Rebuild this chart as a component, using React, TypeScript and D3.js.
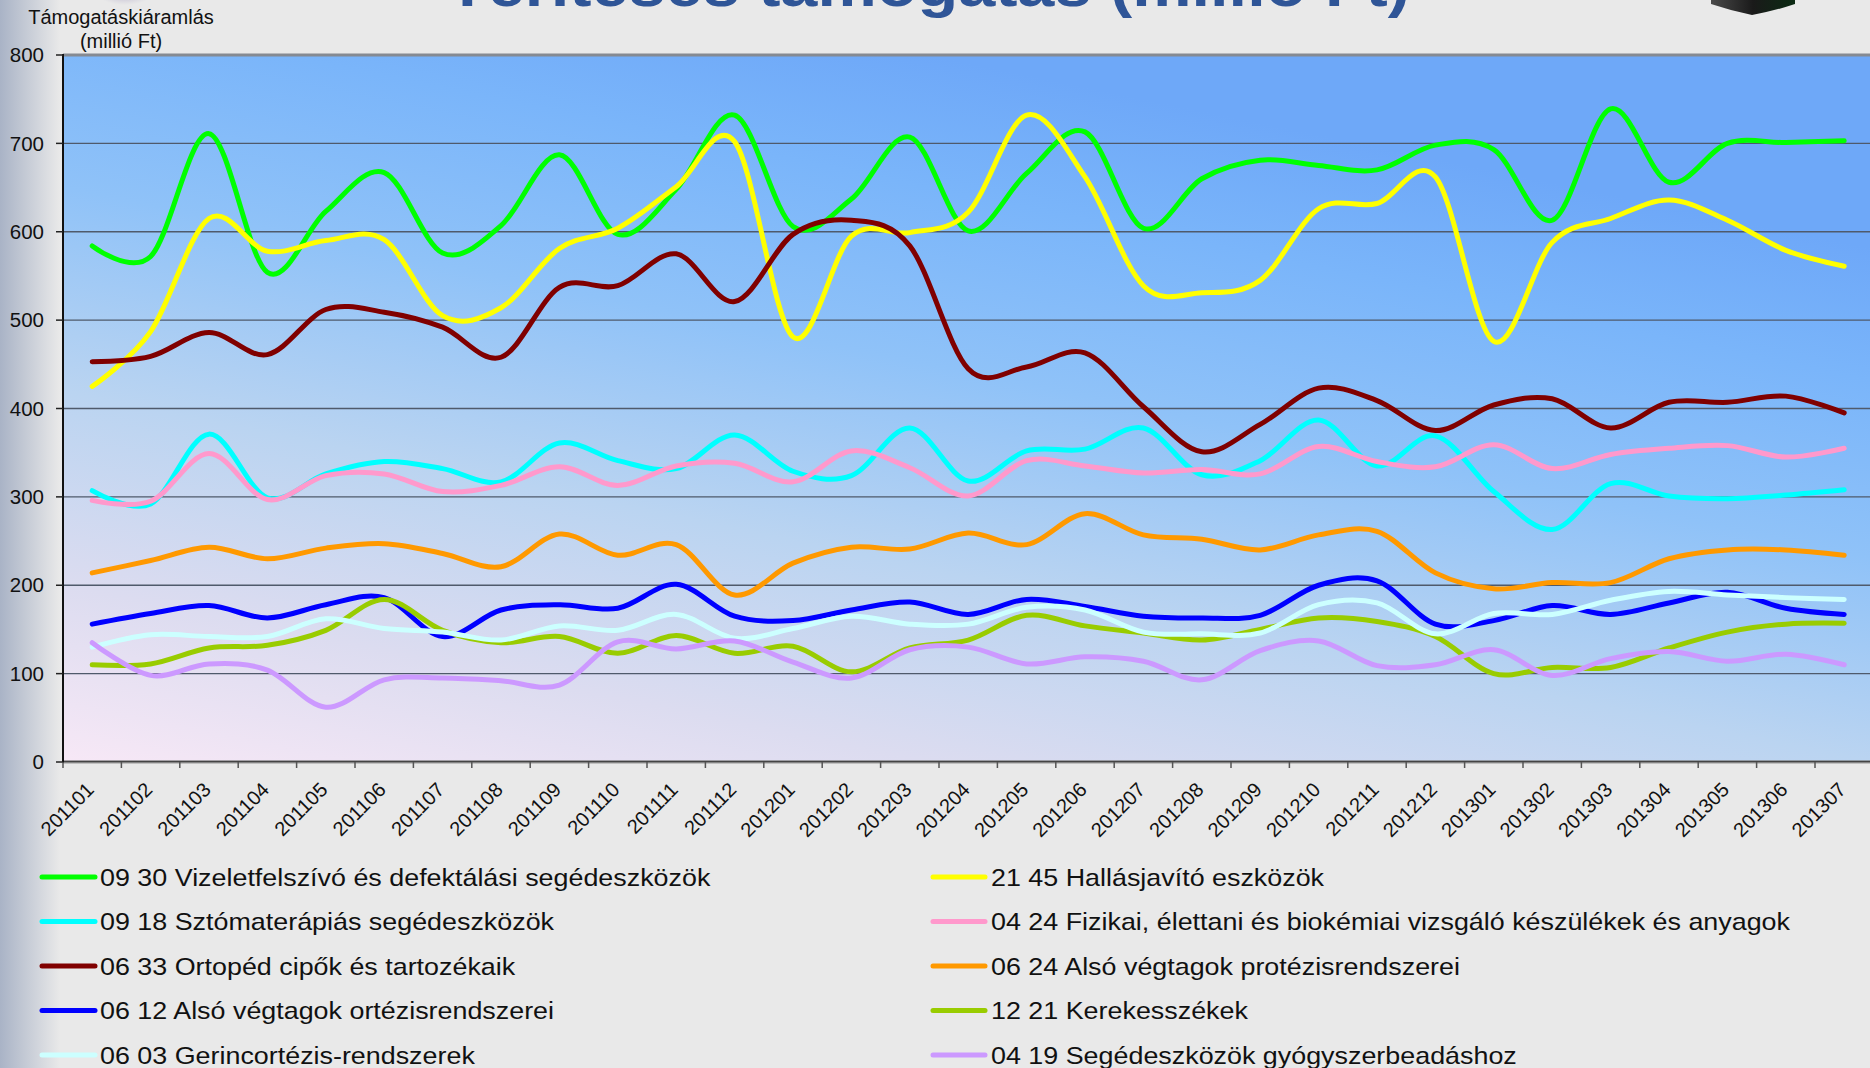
import React from "react";
import * as d3 from "d3";

const months = [
  "201101","201102","201103","201104","201105","201106","201107","201108","201109","201110","201111","201112",
  "201201","201202","201203","201204","201205","201206","201207","201208","201209","201210","201211","201212",
  "201301","201302","201303","201304","201305","201306","201307",
];

const yTicks = [0, 100, 200, 300, 400, 500, 600, 700, 800];

const s0930 = [584,572,711,554,623,667,576,607,687,597,648,732,606,637,707,601,666,713,604,660,681,675,670,698,693,613,739,656,700,701,703];
const s2145 = [425,487,615,578,590,591,505,514,581,604,651,702,481,595,599,622,732,662,539,531,545,626,632,662,476,588,615,636,613,579,561];
const s0918 = [307,292,371,299,326,340,332,317,361,341,332,370,329,324,378,318,352,354,378,325,341,387,335,369,306,263,315,301,298,302,308];
const s0424 = [296,295,349,297,324,326,306,313,334,313,335,338,317,352,333,301,341,335,327,331,326,357,340,334,359,332,348,355,358,345,355];
const s0633 = [453,459,486,461,512,509,492,458,537,539,575,521,597,613,584,445,447,463,402,351,382,423,409,375,404,411,378,407,407,414,395];
const s0624 = [214,228,243,230,242,247,236,221,258,234,246,189,225,243,241,259,246,281,257,252,240,257,261,214,196,203,203,230,240,240,234];
const s0612 = [156,168,177,163,178,186,142,172,178,174,201,165,160,172,181,167,184,176,165,163,166,200,205,156,160,177,167,180,192,174,167];
const s1221 = [110,111,129,132,149,184,149,135,142,123,143,123,131,102,129,138,166,154,146,138,150,163,159,142,100,107,107,129,147,156,157];
const s0603 = [130,144,142,142,162,151,147,138,154,149,167,140,151,165,156,156,175,172,147,145,146,178,180,145,168,167,183,193,189,186,184];
const s0419 = [135,98,111,104,62,93,95,92,87,136,128,137,113,95,127,130,111,119,114,93,126,137,109,110,127,98,117,125,114,122,110];

const seriesNames = [
  "09 30 Vizeletfelszívó és defektálási segédeszközök",
  "21 45 Hallásjavító eszközök",
  "09 18 Sztómaterápiás segédeszközök",
  "04 24 Fizikai, élettani és biokémiai vizsgáló készülékek és anyagok",
  "06 33 Ortopéd cipők és tartozékaik",
  "06 24 Alsó végtagok protézisrendszerei",
  "06 12 Alsó végtagok ortézisrendszerei",
  "12 21 Kerekesszékek",
  "06 03 Gerincortézis-rendszerek",
  "04 19 Segédeszközök gyógyszerbeadáshoz",
];
const seriesValues = [s0930, s2145, s0918, s0424, s0633, s0624, s0612, s1221, s0603, s0419];
const seriesColors = [
  "#00ff00", "#ffff00", "#00ffff", "#ff99cc", "#800000",
  "#ff9900", "#0000ff", "#99cc00", "#ccffff", "#cc99ff",
];

const titleText = "Térítéses támogatás (millió Ft)";
const yTitle1 = "Támogatáskiáramlás";
const yTitle2 = "(millió Ft)";

const W = 1870;
const H = 1068;
const PL = 63;
const PT = 55;
const PB = 762;
const PR = 1870;

export default function App() {
  const x = d3.scaleBand<string>().domain(months).range([PL, PL + 58.4 * months.length]).padding(0);
  const bw = x.bandwidth();
  const cx = (m: string) => (x(m) as number) + bw / 2;
  const y = d3.scaleLinear().domain([0, 800]).range([PB, PT]);
  const line = d3
    .line<number>()
    .x((_, i) => cx(months[i]))
    .y((v) => y(v))
    .curve(d3.curveCatmullRom.alpha(0));

  const font = "'Liberation Sans', Arial, sans-serif";

  return (
    <svg
      width={W}
      height={H}
      viewBox={`0 0 ${W} ${H}`}
      style={{ position: "absolute", left: 0, top: 0, display: "block" }}
    >
      <defs>
        <linearGradient id="leftStrip" x1="0" y1="0" x2="1" y2="0">
          <stop offset="0" stopColor="#a9b3c6" />
          <stop offset="1" stopColor="#e9e9e9" />
        </linearGradient>
        <linearGradient id="plotBg" gradientUnits="userSpaceOnUse" x1={PL} y1={PB} x2={PL + 174} y2={PB - 849}>
          <stop offset="0" stopColor="#f7e8f6" />
          <stop offset="0.2" stopColor="#dcdcf0" />
          <stop offset="0.42" stopColor="#bad4f1" />
          <stop offset="0.65" stopColor="#8fc2f8" />
          <stop offset="0.85" stopColor="#7ab5fa" />
          <stop offset="1" stopColor="#6ea8f8" />
        </linearGradient>
        <linearGradient id="logo" x1="0" y1="0" x2="1" y2="0">
          <stop offset="0" stopColor="#4a4a4a" />
          <stop offset="0.5" stopColor="#1a1a1a" />
          <stop offset="1" stopColor="#0b2a12" />
        </linearGradient>
        <radialGradient id="blob" cx="0.5" cy="0.3" r="0.6">
          <stop offset="0" stopColor="#7d6fa6" stopOpacity="0.9" />
          <stop offset="1" stopColor="#b8b2cc" stopOpacity="0" />
        </radialGradient>
        <clipPath id="plotClip">
          <rect x={PL} y={PT} width={PR - PL} height={PB - PT} />
        </clipPath>
      </defs>

      {/* page background */}
      <rect x={0} y={0} width={W} height={H} fill="#e9e9e9" />
      <rect x={0} y={0} width={60} height={H} fill="url(#leftStrip)" />
      <ellipse cx={125} cy={-6} rx={26} ry={14} fill="url(#blob)" />

      {/* title (cut off at top, as in the reference) */}
      <text
        x={447}
        y={6}
        fontFamily={font}
        fontWeight="bold"
        fontSize={60}
        fill="#2f5597"
        textLength={963}
        lengthAdjust="spacingAndGlyphs"
      >
        {titleText}
      </text>

      {/* logo fragment */}
      <path d="M1711,0 L1711,4 Q1732,11 1752,15 Q1774,11 1795,4 L1795,0 Z" fill="url(#logo)" />

      {/* plot background */}
      <rect x={PL} y={PT} width={PR - PL} height={PB - PT} fill="url(#plotBg)" />

      {/* gridlines */}
      {yTicks.filter((t) => t > 0 && t < 800).map((t) => (
        <line key={t} x1={PL} x2={PR} y1={y(t)} y2={y(t)} stroke="#4f5a6b" strokeWidth={1.4} />
      ))}
      {/* top border */}
      <line x1={PL} x2={PR} y1={PT} y2={PT} stroke="#858a92" strokeWidth={3} />

      {/* series */}
      <g clipPath="url(#plotClip)">
        {seriesValues.map((vals, k) => (
          <path
            key={k}
            d={line(vals) || ""}
            fill="none"
            stroke={seriesColors[k]}
            strokeWidth={5}
            strokeLinecap="round"
            strokeLinejoin="round"
          />
        ))}
      </g>

      {/* axes */}
      <line x1={PL} x2={PR} y1={PB} y2={PB} stroke="#9a9a9a" strokeWidth={3} />
      <line x1={PL} x2={PR} y1={PB - 0.5} y2={PB - 0.5} stroke="#444" strokeWidth={1.5} />
      <line x1={PL} x2={PL} y1={PT - 1} y2={PB + 1} stroke="#111" strokeWidth={2} />

      {yTicks.map((t) => (
        <g key={t}>
          <line x1={PL - 7} x2={PL} y1={y(t)} y2={y(t)} stroke="#222" strokeWidth={1.5} />
          <text
            x={44}
            y={y(t)}
            dy="0.35em"
            textAnchor="end"
            fontFamily={font}
            fontSize={20.5}
            fill="#111"
          >
            {t}
          </text>
        </g>
      ))}

      {months.map((m) => (
        <line key={"t" + m} x1={x(m) as number} x2={x(m) as number} y1={PB} y2={PB + 6} stroke="#555" strokeWidth={1.5} />
      ))}
      {months.map((m) => (
        <text
          key={"l" + m}
          transform={`translate(${cx(m) + 3},${791}) rotate(-45)`}
          textAnchor="end"
          fontFamily={font}
          fontSize={20}
          fill="#111"
        >
          {m}
        </text>
      ))}

      {/* y axis title */}
      <text x={121} y={24} textAnchor="middle" fontFamily={font} fontSize={20} fill="#111">
        {yTitle1}
      </text>
      <text x={121} y={47.5} textAnchor="middle" fontFamily={font} fontSize={20} fill="#111">
        {yTitle2}
      </text>

      {/* legend */}
      {seriesNames.map((name, k) => {
        const col = k % 2;
        const row = Math.floor(k / 2);
        const ly = 877 + row * 44.5;
        const lx0 = col === 0 ? 42 : 933;
        const lx1 = col === 0 ? 95 : 985;
        const tx = col === 0 ? 100 : 991;
        return (
          <g key={"lg" + k}>
            <line x1={lx0} x2={lx1} y1={ly} y2={ly} stroke={seriesColors[k]} strokeWidth={5} strokeLinecap="round" />
            <text
              transform={`translate(${tx},${ly}) scale(1.12,1)`}
              dy="0.36em"
              fontFamily={font}
              fontSize={24}
              fill="#111"
            >
              {name}
            </text>
          </g>
        );
      })}
    </svg>
  );
}
